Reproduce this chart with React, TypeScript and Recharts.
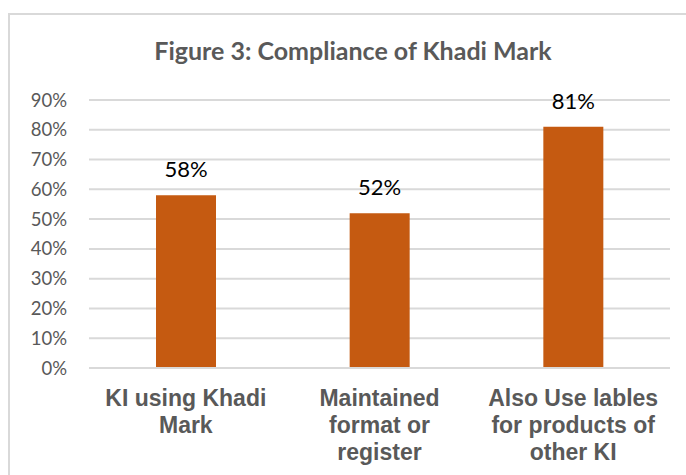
import { BarChart, Bar, XAxis, YAxis, CartesianGrid, LabelList } from 'recharts';

const categories = ['KI using Khadi\nMark', 'Maintained\nformat or\nregister', 'Also Use lables\nfor products of\nother KI'];
const values = [0.58, 0.52, 0.81];
const yTicks = [0, 0.1, 0.2, 0.3, 0.4, 0.5, 0.6, 0.7, 0.8, 0.9];

const data = categories.map((name, i) => ({ name, value: values[i] }));

const GRID = '#D9D9D9';
const TEXT_GRAY = '#595959';
const BAR_COLOR = '#C55A11';

const pct = (v: number) => `${Math.round(v * 100)}%`;

function CategoryTick({ x, y, payload }: any) {
  const lines = String(payload.value).split('\n');
  return (
    <text
      x={x}
      y={y}
      textAnchor="middle"
      fill={TEXT_GRAY}
      fontFamily="'Liberation Sans', Arial, sans-serif"
      fontWeight="bold"
      fontSize={23}
    >
      {lines.map((line, i) => (
        <tspan key={i} x={x} dy={i === 0 ? 37.7 : 27.3}>
          {line}
        </tspan>
      ))}
    </text>
  );
}

export default function App() {
  return (
    <div style={{ position: 'absolute', left: 0, top: 0, width: 686, height: 475, overflow: 'hidden', background: '#fff' }}>
      <div
        style={{
          position: 'absolute',
          left: 8,
          top: 13,
          width: 720,
          height: 520,
          border: `2px solid ${GRID}`,
          boxSizing: 'border-box',
        }}
      />
      <div style={{ position: 'absolute', left: 0, top: 0 }}>
        <BarChart width={686} height={475} data={data} margin={{ top: 100, right: 16, left: 0, bottom: 0 }}>
          <text
            x={353}
            y={60}
            textAnchor="middle"
            fill={TEXT_GRAY}
            fontFamily="Lato, sans-serif"
            fontWeight="bold"
            fontSize={25}
          >
            Figure 3: Compliance of Khadi Mark
          </text>
          <CartesianGrid vertical={false} stroke={GRID} strokeWidth={2} />
          <XAxis
            dataKey="name"
            height={107}
            axisLine={{ stroke: GRID, strokeWidth: 2 }}
            tickLine={false}
            tickSize={0}
            tickMargin={0}
            interval={0}
            tick={<CategoryTick />}
          />
          <YAxis
            width={89}
            domain={[0, 0.9]}
            ticks={yTicks}
            tickFormatter={pct}
            axisLine={false}
            tickLine={false}
            tickSize={0}
            tickMargin={22}
            tick={{ fill: TEXT_GRAY, fontSize: 18.5, fontFamily: 'Lato, sans-serif' }}
          />
          <Bar dataKey="value" fill={BAR_COLOR} barSize={60} isAnimationActive={false}>
            <LabelList
              dataKey="value"
              position="top"
              offset={18}
              formatter={(v: any) => pct(Number(v))}
              fill="#000"
              fontSize={22}
              fontFamily="Lato, sans-serif"
            />
          </Bar>
        </BarChart>
      </div>
    </div>
  );
}
